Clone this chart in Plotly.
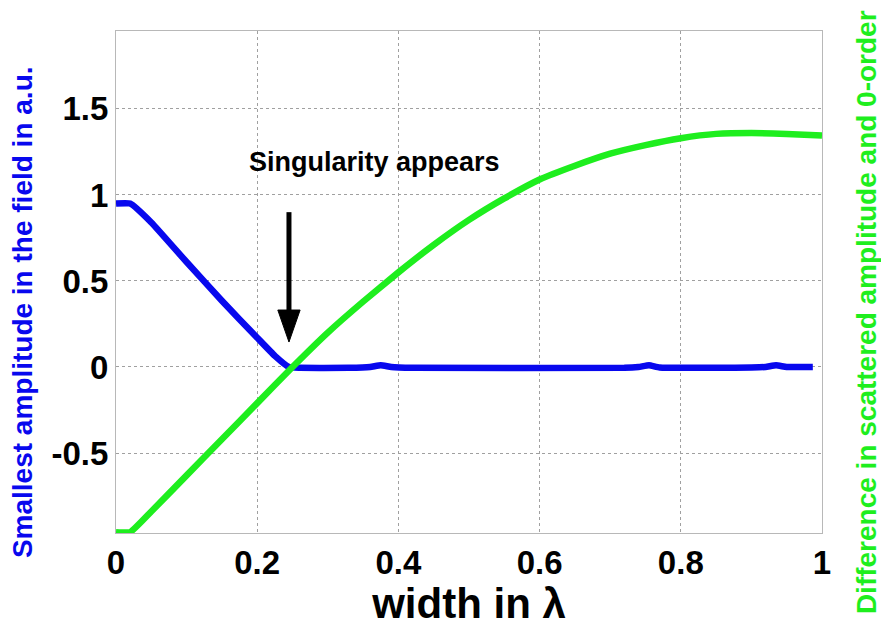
import plotly.graph_objects as go

# Width of the structure (in wavelengths)
blue_x = [0.0, 0.02, 0.05, 0.10, 0.15, 0.20, 0.225, 0.245, 0.26, 0.33, 0.36, 0.375,
          0.39, 0.42, 0.72, 0.74, 0.755, 0.77, 0.90, 0.92, 0.935, 0.95, 0.987]
# Smallest field amplitude (a.u.)
blue_y = [0.95, 0.95, 0.84, 0.61, 0.385, 0.17, 0.065, 0.0, -0.005, -0.005, 0.0, 0.01,
          0.0, -0.005, -0.005, 0.0, 0.01, -0.003, -0.003, 0.0, 0.01, 0.0, 0.0]

green_x = [0.0, 0.02, 0.05, 0.10, 0.15, 0.20, 0.25, 0.30, 0.35, 0.40, 0.45,
           0.50, 0.55, 0.60, 0.65, 0.70, 0.75, 0.80, 0.85, 0.90, 0.95, 1.0]
# Difference between scattered amplitude and 0-order
green_y = [-0.96, -0.96, -0.84, -0.63, -0.42, -0.21, 0.0, 0.2, 0.38, 0.55, 0.71,
           0.855, 0.98, 1.09, 1.17, 1.24, 1.29, 1.33, 1.355, 1.36, 1.355, 1.345]

x_ticks = [0, 0.2, 0.4, 0.6, 0.8, 1]
x_ticklabels = ["0", "0.2", "0.4", "0.6", "0.8", "1"]
y_ticks = [-0.5, 0, 0.5, 1, 1.5]
y_ticklabels = ["-0.5", "0", "0.5", "1", "1.5"]

y_range = [-0.965, 1.953]
x_range = [0, 1]

BLUE = "#0808ee"
GREEN = "#1eee1e"
FONT = "Liberation Sans, Arial, sans-serif"

# singularity marker (arrow pointing down onto the crossing point)
sing_x = 0.245
tip_y = 0.145
head_len = 0.186
head_half = 0.0158
tail_y = 0.90

fig = go.Figure()
fig.add_trace(go.Scatter(x=blue_x, y=blue_y, mode="lines",
                         line=dict(color=BLUE, width=6.5, shape="spline", smoothing=0.4),
                         showlegend=False))
fig.add_trace(go.Scatter(x=green_x, y=green_y, mode="lines", yaxis="y2",
                         line=dict(color=GREEN, width=6.5, shape="spline", smoothing=0.4),
                         showlegend=False))

fig.add_shape(type="line", x0=sing_x, x1=sing_x, y0=tail_y, y1=tip_y + head_len * 0.9,
              xref="x", yref="y", line=dict(color="black", width=5))
fig.add_shape(type="path",
              path=(f"M {sing_x - head_half},{tip_y + head_len} "
                    f"L {sing_x + head_half},{tip_y + head_len} "
                    f"L {sing_x},{tip_y} Z"),
              xref="x", yref="y", fillcolor="black", line=dict(color="black", width=1))

fig.add_annotation(x=0.186, y=1.19, xref="x", yref="y", xanchor="left", yanchor="middle",
                   text="Singularity appears", showarrow=False,
                   font=dict(family=FONT, size=27, color="black", weight="bold"))

# vertical axis titles, one per side
fig.add_annotation(x=0, y=0.44, xref="paper", yref="paper", xanchor="center",
                   yanchor="middle", xshift=-94, textangle=-90, showarrow=False,
                   text="Smallest amplitude in the field in a.u.",
                   font=dict(family=FONT, size=28, color=BLUE, weight="bold"))
fig.add_annotation(x=1, y=0.44, xref="paper", yref="paper", xanchor="center",
                   yanchor="middle", xshift=44, textangle=-90, showarrow=False,
                   text="Difference in scattered amplitude and 0-order",
                   font=dict(family=FONT, size=28, color=GREEN, weight="bold"))

axis_common = dict(showline=True, linecolor="#b8b8b8", linewidth=1, mirror=True,
                   showgrid=True, gridcolor="#a0a0a0", griddash="dot", gridwidth=1,
                   zeroline=False, ticks="",
                   tickfont=dict(family=FONT, size=33, color="black", weight="bold"))

fig.update_layout(
    width=881, height=627,
    margin=dict(l=116, r=59, t=31, b=94),
    paper_bgcolor="white", plot_bgcolor="white",
    xaxis=dict(range=x_range, tickvals=x_ticks, ticktext=x_ticklabels,
               title=dict(text="width in λ", standoff=0,
                          font=dict(family=FONT, size=42, color="black", weight="bold")),
               **axis_common),
    yaxis=dict(range=y_range, tickvals=y_ticks, ticktext=y_ticklabels, **axis_common),
    yaxis2=dict(range=y_range, overlaying="y", side="right", showticklabels=False,
                showgrid=False, zeroline=False, showline=False, ticks=""),
)

fig.write_html("out.html")
